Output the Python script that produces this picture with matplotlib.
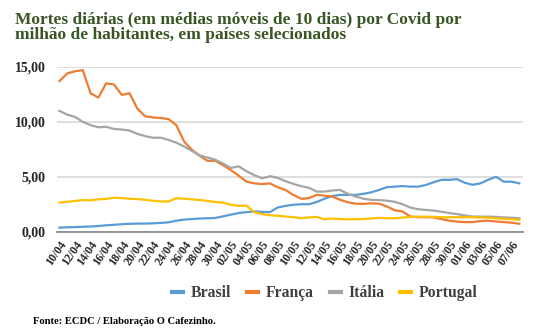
# -*- coding: utf-8 -*-
'''Mortes diárias por Covid por milhão de habitantes (médias móveis de 10 dias)'''

import numpy
import pandas
import matplotlib
matplotlib.use('Agg')
import matplotlib.pyplot as plt

# datas: 10/04 a 08/06
dates = pandas.date_range('2020-04-10', '2020-06-08', freq='D')
dateLabels = [d.strftime('%d/%m') for d in dates]

brasil = [0.37, 0.40, 0.42, 0.45, 0.47, 0.52, 0.58, 0.63, 0.68, 0.72,
          0.74, 0.74, 0.76, 0.80, 0.85, 1.00, 1.10, 1.15, 1.20, 1.22,
          1.25, 1.40, 1.55, 1.70, 1.78, 1.85, 1.80, 1.78, 2.20, 2.35,
          2.45, 2.50, 2.50, 2.70, 3.00, 3.25, 3.35, 3.35, 3.35, 3.45,
          3.58, 3.80, 4.05, 4.10, 4.15, 4.10, 4.10, 4.25, 4.50, 4.72,
          4.72, 4.78, 4.45, 4.27, 4.40, 4.72, 5.00, 4.55, 4.55, 4.40]

franca = [13.70, 14.40, 14.60, 14.70, 12.60, 12.20, 13.50, 13.40, 12.45, 12.60,
          11.20, 10.50, 10.40, 10.35, 10.25, 9.70, 8.20, 7.45, 6.90, 6.45,
          6.45, 6.05, 5.60, 5.10, 4.55, 4.40, 4.33, 4.40, 4.05, 3.80,
          3.35, 3.00, 3.05, 3.35, 3.28, 3.20, 2.90, 2.68, 2.55, 2.53,
          2.58, 2.55, 2.30, 1.95, 1.85, 1.38, 1.32, 1.32, 1.30, 1.15,
          1.00, 0.92, 0.87, 0.87, 0.97, 1.00, 0.93, 0.87, 0.82, 0.72]

italia = [11.00, 10.65, 10.45, 10.00, 9.70, 9.50, 9.55, 9.35, 9.30, 9.20,
          8.90, 8.70, 8.55, 8.55, 8.35, 8.10, 7.75, 7.35, 6.95, 6.75,
          6.55, 6.20, 5.80, 5.95, 5.50, 5.15, 4.85, 5.05, 4.90, 4.60,
          4.35, 4.15, 4.00, 3.65, 3.65, 3.75, 3.80, 3.45, 3.20, 3.00,
          2.90, 2.88, 2.82, 2.72, 2.50, 2.20, 2.05, 1.98, 1.92, 1.82,
          1.70, 1.60, 1.48, 1.38, 1.37, 1.37, 1.35, 1.30, 1.27, 1.22]

portugal = [2.65, 2.72, 2.80, 2.88, 2.85, 2.95, 2.98, 3.10, 3.05, 3.00,
            2.97, 2.90, 2.82, 2.75, 2.75, 3.05, 3.00, 2.95, 2.88, 2.80,
            2.70, 2.65, 2.45, 2.35, 2.37, 1.78, 1.60, 1.50, 1.45, 1.38,
            1.32, 1.23, 1.30, 1.35, 1.13, 1.20, 1.15, 1.13, 1.13, 1.15,
            1.20, 1.27, 1.22, 1.22, 1.28, 1.35, 1.37, 1.37, 1.35, 1.32,
            1.32, 1.32, 1.32, 1.32, 1.30, 1.28, 1.22, 1.17, 1.13, 1.08]

yTicks = [0, 5, 10, 15]
yTickLabels = ['0,00', '5,00', '10,00', '15,00']

series = [
	('Brasil', brasil, '#5B9BD5'),
	('França', franca, '#ED7D31'),
	('Itália', italia, '#A5A5A5'),
	('Portugal', portugal, '#FFC000'),
]

plt.rcParams['font.family'] = ['Liberation Serif', 'DejaVu Serif']
plt.rcParams['font.weight'] = 'bold'

fig = plt.figure(figsize=(5.33, 3.31), dpi=100)
graph = fig.add_axes([0.107, 0.30, 0.874, 0.498])

x = numpy.arange(len(dates))
for name, values, color in series:
	graph.plot(x, values, color=color, linewidth=1.6, label=name,
			   solid_joinstyle='round')

graph.set_xlim(-0.3, len(dates) - 0.55)
graph.set_ylim(0, 15)

graph.set_xticks(x[::2])
graph.set_xticklabels(dateLabels[::2], rotation=55, ha='right',
					  rotation_mode='anchor', fontsize=8.5, color='#262626')
graph.set_yticks(yTicks)
graph.set_yticklabels(yTickLabels, fontsize=10, color='#262626')
graph.tick_params(axis='both', length=0)
graph.tick_params(axis='x', pad=5)
graph.tick_params(axis='y', pad=8)

graph.grid(axis='y', color='#D9D9D9', linewidth=1.2)
graph.set_axisbelow(True)
for side in ['left', 'right', 'top']:
	graph.spines[side].set_visible(False)
graph.spines['bottom'].set_color('#8C8C8C')
graph.spines['bottom'].set_linewidth(1.3)

legend = fig.legend(loc='center', bbox_to_anchor=(325 / 533, 1 - 293 / 331),
					ncol=4, frameon=False, fontsize=11.3, handlelength=0.7,
					handletextpad=0.5, columnspacing=1.0)
for line in legend.get_lines():
	line.set_linewidth(3)
for text in legend.get_texts():
	text.set_color('#404040')

fig.text(15 / 533, 1 - 12 / 331,
		 'Mortes diárias (em médias móveis de 10 dias) por Covid por\n'
		 'milhão de habitantes, em países selecionados',
		 ha='left', va='top', fontsize=12.5, color='#375623', linespacing=0.95)

fig.text(33 / 533, 1 - 321 / 331, 'Fonte: ECDC / Elaboração O Cafezinho.',
		 ha='left', va='center', fontsize=7.6, color='#000000')

plt.savefig('out.png', dpi=100)
